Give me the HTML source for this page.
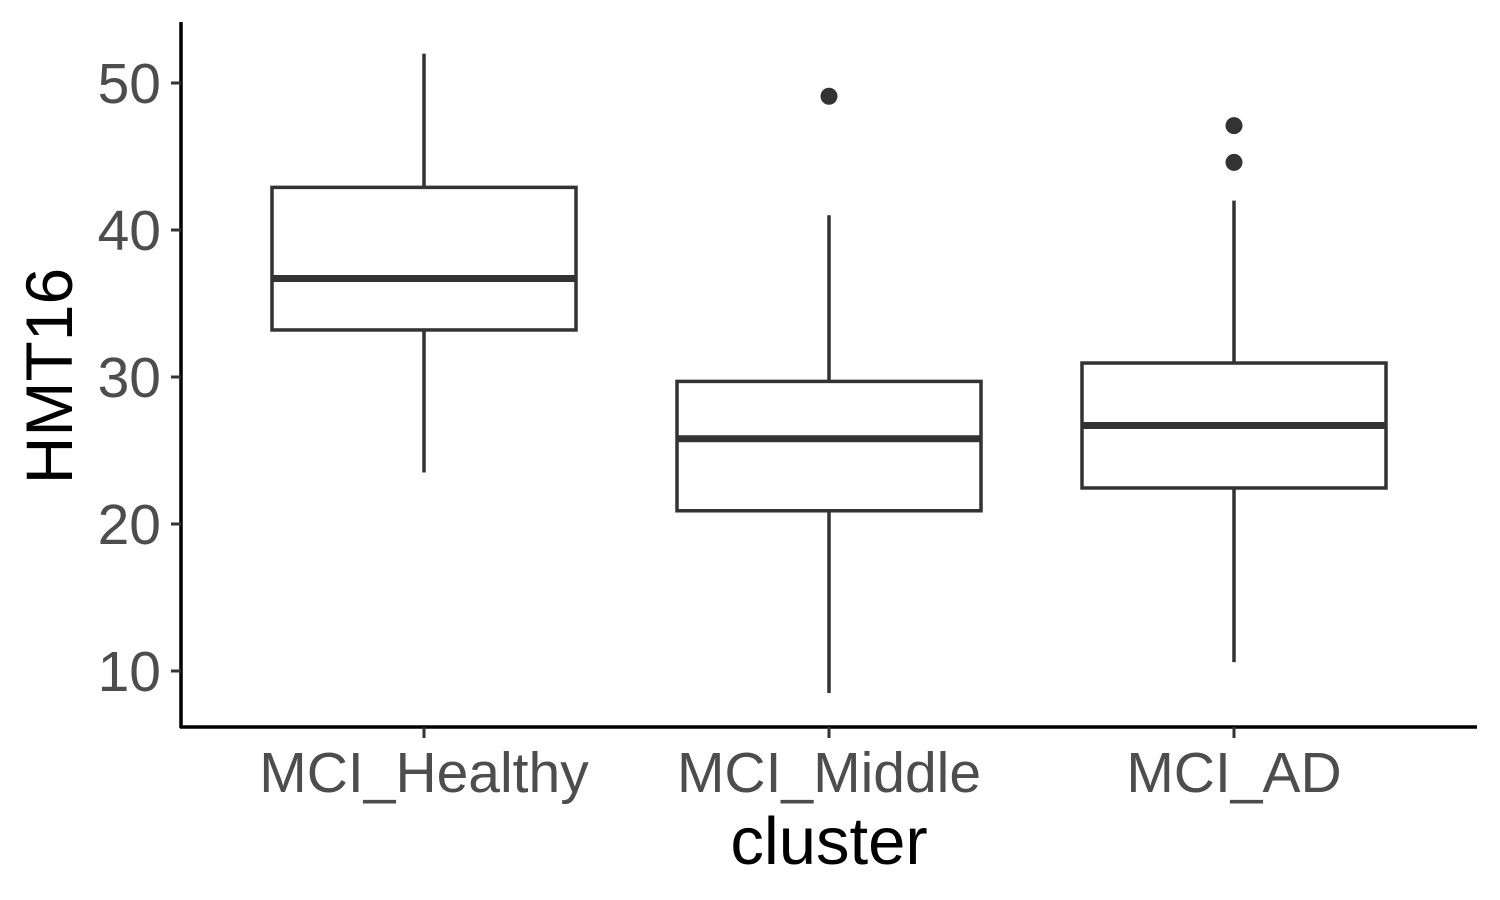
<!DOCTYPE html>
<html><head><meta charset="utf-8"><style>
html,body{margin:0;padding:0;background:#fff;}
svg{display:block;font-family:"Liberation Sans",Arial,sans-serif;}
</style></head><body>
<svg id="chart" width="1500" height="900">
<rect width="1500" height="900" fill="#fff"/>
<g id="axes"></g>
<g id="marks"></g>
</svg>
<script>
const categories = ["MCI_Healthy","MCI_Middle","MCI_AD"];
const lowerWhisker = [23.5, 8.5, 10.6];
const q1 = [33.2, 20.9, 22.45];
const medians = [36.7, 25.8, 26.7];
const q3 = [42.9, 29.7, 30.95];
const upperWhisker = [52.0, 41.0, 42.0];
const outliers = [[], [49.1], [47.1, 44.6]];
const yTicks = [10, 20, 30, 40, 50];

const NS = "http://www.w3.org/2000/svg";
const y = v => 83 + (50 - v) * 14.7;
const x = i => 424 + i * 405;
const halfW = 152;
const col = "#333333";
function mk(parent, tag, attrs, text){
  const e = document.createElementNS(NS, tag);
  for (const k in attrs) e.setAttribute(k, attrs[k]);
  if (text !== undefined) e.textContent = text;
  parent.appendChild(e); return e;
}
const axes = document.getElementById("axes");
const marks = document.getElementById("marks");

let el = mk(axes, "line", {x1:181, y1:22, x2:181, y2:728, stroke:"#000", "stroke-width":3.5});


el = mk(axes, "line", {x1:180, y1:727, x2:1477, y2:727, stroke:"#000", "stroke-width":3.5});



yTicks.forEach(t => {
  const tk = mk(axes, "line", {x1:171, y1:y(t), x2:181, y2:y(t), stroke:"#333", "stroke-width":3});
  
  
  const lb = mk(axes, "text", {x:161, y:y(t)+20, "text-anchor":"end", "font-size":57, fill:"#4d4d4d"}, String(t));
  
  
});
categories.forEach((c, i) => {
  const tk = mk(axes, "line", {x1:x(i), y1:727, x2:x(i), y2:738, stroke:"#333", "stroke-width":3});
  
  
  const lb = mk(axes, "text", {x:x(i), y:792, "text-anchor":"middle", "font-size":57, fill:"#4d4d4d"}, c);
  
  
});
el = mk(axes, "text", {x:829, y:864, "text-anchor":"middle", "font-size":67, fill:"#000"}, "cluster");


el = mk(axes, "text", {x:0, y:0, "text-anchor":"middle", "font-size":66, fill:"#000", transform:"translate(72,376) rotate(-90)"}, "HMT16");



categories.forEach((c, i) => {
  const g = mk(marks, "g", {});
  
  
  mk(g, "line", {x1:x(i), y1:y(upperWhisker[i]), x2:x(i), y2:y(q3[i]), stroke:col, "stroke-width":3.5});
  mk(g, "line", {x1:x(i), y1:y(q1[i]), x2:x(i), y2:y(lowerWhisker[i]), stroke:col, "stroke-width":3.5});
  mk(g, "rect", {x:x(i)-halfW, y:y(q3[i]), width:halfW*2, height:y(q1[i])-y(q3[i]), fill:"#fff", stroke:col, "stroke-width":3.5});
  mk(g, "line", {x1:x(i)-halfW, y1:y(medians[i]), x2:x(i)+halfW, y2:y(medians[i]), stroke:col, "stroke-width":7});
  outliers[i].forEach(o => {
    const p = mk(g, "circle", {cx:x(i), cy:y(o), r:8.5, fill:col});
    
    
  });
});
</script>
</body></html>
